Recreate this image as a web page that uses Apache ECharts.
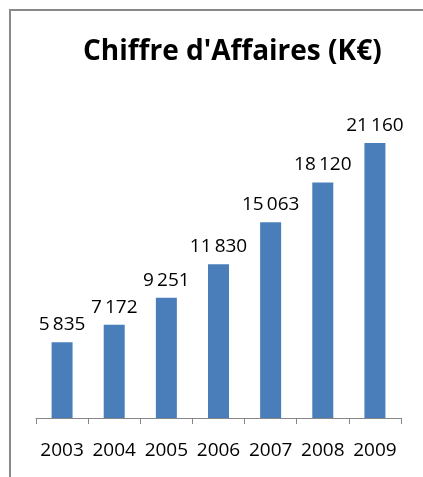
<!DOCTYPE html>
<html><head><meta charset="utf-8">
<script src="https://cdn.jsdelivr.net/npm/echarts@6/dist/echarts.min.js"></script>
<style>html,body{margin:0;padding:0;background:#fff}#c{width:423px;height:477px}</style>
</head><body><div id="c"></div>
<script>
const titleText = "Chiffre d'Affaires (K€)";
const categories = ['2003','2004','2005','2006','2007','2008','2009'];
const values = [5835, 7172, 9251, 11830, 15063, 18120, 21160];

function fmt(v){ return String(v).replace(/\B(?=(\d{3})+(?!\d))/g, '\u2009'); }

const chart = echarts.init(document.getElementById('c'), null, {renderer:'canvas'});
chart.setOption({
  animation:false,
  backgroundColor:'#ffffff',
  title:{text:titleText,left:78,top:33,textStyle:{fontFamily:'Open Sans',fontWeight:'bold',fontSize:28,color:'#000'}},
  graphic:[{type:'rect',shape:{x:10,y:10,width:430,height:480},style:{fill:null,stroke:'#898989',lineWidth:2}}],
  grid:{left:36,right:22,top:93,bottom:59},
  xAxis:{type:'category',data:categories,
    axisLine:{lineStyle:{color:'#868686',width:1}},
    axisTick:{show:true,length:6,lineStyle:{color:'#868686'}},
    axisLabel:{fontFamily:'Open Sans',fontSize:19,color:'#000',margin:23,interval:0}},
  yAxis:{type:'value',min:0,max:25000,show:false,splitLine:{show:false}},
  series:[{type:'bar',data:values,barWidth:21,
    itemStyle:{color:'#4a7ebb'},
    label:{show:true,position:'top',distance:8,formatter:p=>fmt(p.value),fontFamily:'Open Sans',fontSize:19,color:'#000'}}]
});
</script></body></html>
